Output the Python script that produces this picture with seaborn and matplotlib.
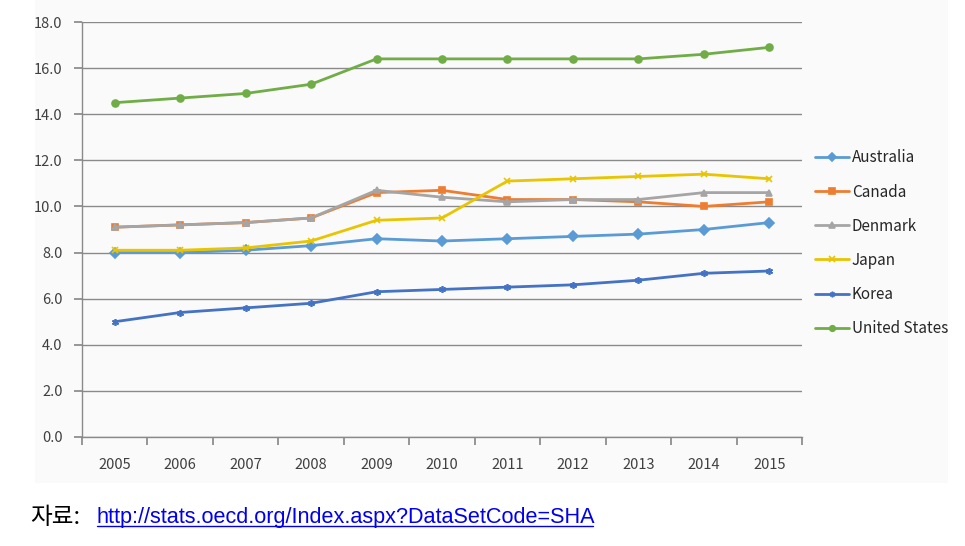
import numpy as np
import pandas as pd
import seaborn as sns
import matplotlib.pyplot as plt
from matplotlib.patches import Rectangle
from matplotlib.lines import Line2D

sns.set_theme(style="white")
plt.rcParams['font.family'] = ['Noto Sans CJK KR', 'DejaVu Sans']

years = ['2005', '2006', '2007', '2008', '2009', '2010', '2011', '2012', '2013', '2014', '2015']
australia = [8.0, 8.0, 8.1, 8.3, 8.6, 8.5, 8.6, 8.7, 8.8, 9.0, 9.3]
canada = [9.1, 9.2, 9.3, 9.5, 10.6, 10.7, 10.3, 10.3, 10.2, 10.0, 10.2]
denmark = [9.1, 9.2, 9.3, 9.5, 10.7, 10.4, 10.2, 10.3, 10.3, 10.6, 10.6]
japan = [8.1, 8.1, 8.2, 8.5, 9.4, 9.5, 11.1, 11.2, 11.3, 11.4, 11.2]
korea = [5.0, 5.4, 5.6, 5.8, 6.3, 6.4, 6.5, 6.6, 6.8, 7.1, 7.2]
united_states = [14.5, 14.7, 14.9, 15.3, 16.4, 16.4, 16.4, 16.4, 16.4, 16.6, 16.9]

series = [
    ('Australia', australia, '#5B9BD5', 'D'),
    ('Canada', canada, '#ED7D31', 's'),
    ('Denmark', denmark, '#A5A5A5', '^'),
    ('Japan', japan, '#E8C500', 'x'),
    ('Korea', korea, '#4472C4', (6, 2, 0)),
    ('United States', united_states, '#70AD47', 'o'),
]

fig = plt.figure(figsize=(9.65, 5.46), dpi=100)
fig.patch.set_facecolor('white')

# faint chart-area background
bg = fig.add_axes([35 / 965, 1 - 483 / 546, (948 - 35) / 965, 483 / 546], zorder=-5)
bg.set_axis_off()
bg.add_patch(Rectangle((0, 0), 1, 1, transform=bg.transAxes, facecolor='#fafafa', edgecolor='none'))

ax = fig.add_axes([82 / 965, 1 - 437 / 546, (802 - 82) / 965, (437 - 22) / 546], zorder=1)
ax.set_facecolor('none')

x = np.arange(len(years))
for name, vals, color, marker in series:
    sns.lineplot(x=x, y=vals, ax=ax, color=color, marker=marker, markersize=5,
                 markeredgecolor=color, markeredgewidth=1.2, linewidth=2, label=name)

ax.set_xlim(-0.5, len(years) - 0.5)
ax.set_ylim(0, 18)
ax.set_yticks(np.arange(0, 18.1, 2))
ax.set_yticklabels([f'{v:.1f}' for v in np.arange(0, 18.1, 2)], fontsize=10.5, color='#404040')
ax.yaxis.grid(True, color='#8a8a8a', linewidth=1)
ax.set_axisbelow(True)

ax.set_xticks(np.arange(-0.5, len(years), 1))
ax.set_xticklabels([])
ax.set_xticks(x, minor=True)
ax.set_xticklabels(years, minor=True, fontsize=10.5, color='#404040')
ax.tick_params(axis='x', which='major', direction='out', length=6, color='#8a8a8a', bottom=True)
ax.tick_params(axis='x', which='minor', length=0, pad=15)
ax.tick_params(axis='y', direction='out', length=6, color='#8a8a8a', left=True, pad=8)

for side in ['top', 'right']:
    ax.spines[side].set_visible(False)
for side in ['left', 'bottom']:
    ax.spines[side].set_color('#8a8a8a')
    ax.spines[side].set_linewidth(1)
ax.set_xlabel('')
ax.set_ylabel('')

leg = ax.legend(loc='center left', bbox_to_anchor=(1.01, 0.467), frameon=False,
                fontsize=11, handlelength=2.2, handletextpad=0.2, labelspacing=1.12,
                borderaxespad=0, markerscale=0.8)
for t in leg.get_texts():
    t.set_color('#262626')

fig.text(30 / 965, 1 - 517 / 546, '자료:', fontsize=17, color='black', va='center')
url = fig.text(97 / 965, 1 - 517 / 546, 'http://stats.oecd.org/Index.aspx?DataSetCode=SHA',
               fontsize=15.6, color='#0000EE', va='center', family=['Liberation Sans'])
fig.canvas.draw()
bb = url.get_window_extent().transformed(fig.transFigure.inverted())
fig.add_artist(Line2D([bb.x0, bb.x1 - 3 / 965], [bb.y0 + 0.002, bb.y0 + 0.002], color='#0000EE',
                      linewidth=1, transform=fig.transFigure))

fig.savefig('out.png', dpi=100)
